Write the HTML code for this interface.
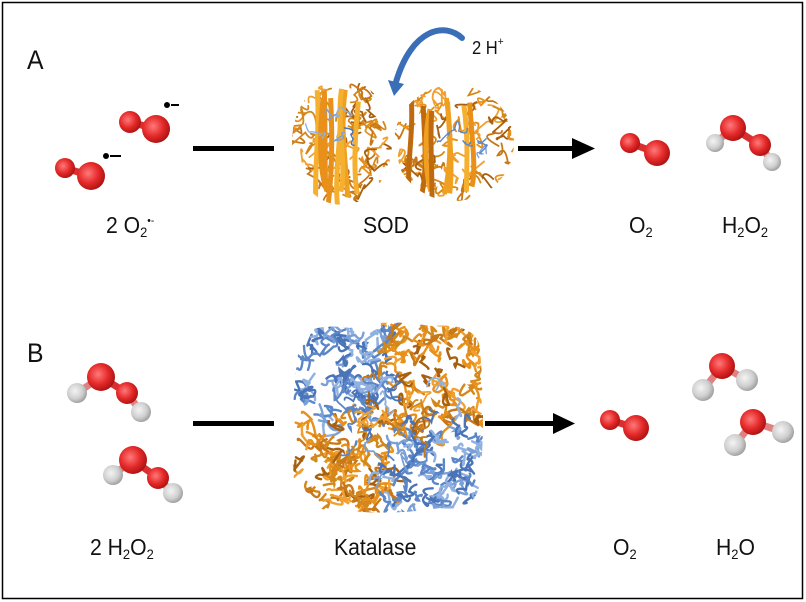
<!DOCTYPE html>
<html><head><meta charset="utf-8"><style>
html,body{margin:0;padding:0;background:#fff}
#c{position:relative;width:806px;height:602px;overflow:hidden;background:#fff}
.t{position:absolute;font-family:"Liberation Sans",sans-serif;font-size:23px;color:#111;white-space:nowrap;transform-origin:0 0;transform:scaleX(0.92)}
.L{font-size:27px}
sub{font-size:14px;vertical-align:-4px}
sup{font-size:13px;vertical-align:9px}
</style></head><body><div id="c">
<svg width="806" height="602" style="position:absolute;left:0;top:0">
<defs>
<radialGradient id="o" cx="0.4" cy="0.4" r="0.65"><stop offset="0" stop-color="#ff7a7a"/><stop offset="0.55" stop-color="#e52a2a"/><stop offset="1" stop-color="#a81010"/></radialGradient>
<radialGradient id="h" cx="0.4" cy="0.4" r="0.65"><stop offset="0" stop-color="#f4f4f4"/><stop offset="0.6" stop-color="#cfcfcf"/><stop offset="1" stop-color="#999"/></radialGradient>
<clipPath id="c1"><ellipse cx="342" cy="142" rx="50" ry="63"/></clipPath>
<clipPath id="c2"><ellipse cx="454" cy="143" rx="60" ry="58"/></clipPath>
<clipPath id="ck"><path d="M300,340 Q310,322 350,328 Q390,318 430,326 Q478,322 480,350 Q486,420 480,480 Q478,512 440,508 Q390,516 340,510 Q296,512 294,480 Q288,420 300,340Z"/></clipPath>
</defs>
<rect x="2.5" y="2.5" width="800" height="596" fill="none" stroke="#000" stroke-width="1.5"/>
<g id="mol"></g>
<g id="g1" clip-path="url(#c1)"></g>
<g id="g2" clip-path="url(#c2)"></g>
<g id="gk" clip-path="url(#ck)"></g>
<rect x="193" y="146" width="81" height="5" fill="#000"/>
<rect x="518" y="146" width="56" height="5" fill="#000"/>
<polygon points="572,138 595,148.5 572,159" fill="#000"/>
<rect x="193" y="421" width="81" height="5" fill="#000"/>
<rect x="485" y="421" width="70" height="5" fill="#000"/>
<polygon points="553,413 575,423.5 553,434" fill="#000"/>
<path d="M462,38 C445,22 412,28 396,82" fill="none" stroke="#3a6fb8" stroke-width="6" stroke-linecap="round"/>
<polygon points="388,80 404,84 394,96" fill="#3a6fb8"/>
<circle cx="167" cy="105" r="3" fill="#000"/><rect x="171" y="104" width="8" height="2" fill="#000"/>
<circle cx="106" cy="156" r="3" fill="#000"/><rect x="110" y="155" width="11" height="2" fill="#000"/>
</svg>
<div class="t L" style="left:27px;top:45px">A</div>
<div class="t L" style="left:27px;top:338px">B</div>
<div class="t" style="left:472px;top:36px;font-size:18px">2 H<sup style="font-size:11px">+</sup></div>
<div class="t" style="left:106px;top:212px">2 O<sub>2</sub><sup style="font-size:11px">•-</sup></div>
<div class="t" style="left:363px;top:212px">SOD</div>
<div class="t" style="left:629px;top:212px">O<sub>2</sub></div>
<div class="t" style="left:722px;top:212px">H<sub>2</sub>O<sub>2</sub></div>
<div class="t" style="left:90px;top:534px">2 H<sub>2</sub>O<sub>2</sub></div>
<div class="t" style="left:334px;top:534px">Katalase</div>
<div class="t" style="left:613px;top:534px">O<sub>2</sub></div>
<div class="t" style="left:716px;top:534px">H<sub>2</sub>O</div>
</div>
<script>
var NS="http://www.w3.org/2000/svg";
var mol=document.getElementById('mol');
function at(a){var c=document.createElementNS(NS,'circle');c.setAttribute('cx',a[0]);c.setAttribute('cy',a[1]);c.setAttribute('r',a[2]);c.setAttribute('fill','url(#'+a[3]+')');mol.appendChild(c);}
function bond(p,q){var l=document.createElementNS(NS,'line');l.setAttribute('x1',p[0]);l.setAttribute('y1',p[1]);l.setAttribute('x2',q[0]);l.setAttribute('y2',q[1]);l.setAttribute('stroke',p[3]=='h'||q[3]=='h'?'#e08080':'#d83030');l.setAttribute('stroke-width','7');mol.appendChild(l);}
var M=[
 [[[130,122,11,'o'],[156,129,14,'o']],[[0,1]]],
 [[[65,168,10,'o'],[91,176,14,'o']],[[0,1]]],
 [[[630,143,10,'o'],[657,153,13,'o']],[[0,1]]],
 [[[715,143,9,'h'],[733,128,13,'o'],[760,145,11,'o'],[772,162,9,'h']],[[0,1],[1,2],[2,3]]],
 [[[77,393,10,'h'],[101,377,14,'o'],[127,393,11,'o'],[141,412,10,'h']],[[0,1],[1,2],[2,3]]],
 [[[113,475,10,'h'],[133,460,14,'o'],[158,478,11,'o'],[173,493,10,'h']],[[0,1],[1,2],[2,3]]],
 [[[610,420,10,'o'],[636,428,13,'o']],[[0,1]]],
 [[[703,390,11,'h'],[722,366,13,'o'],[747,380,11,'h']],[[0,1],[1,2]]],
 [[[735,445,11,'h'],[753,422,13,'o'],[783,432,11,'h']],[[0,1],[1,2]]]
];
M.forEach(function(m){var A=m[0];m[1].forEach(function(b){bond(A[b[0]],A[b[1]]);});A.forEach(at);});
var seed=11;function R(){seed=(seed*16807)%2147483647;return seed/2147483647;}
function squig(G,x0,y0,w,h,n,cols,sw,st){
 var g=document.getElementById(G);
 for(var i=0;i<n;i++){
  var x=x0+R()*w,y=y0+R()*h,d='M'+x.toFixed(1)+','+y.toFixed(1);
  for(var k=0;k<3;k++){var cx=x+(R()-0.5)*st,cy=y+(R()-0.5)*st,nx=x+(R()-0.5)*st,ny=y+(R()-0.5)*st;
   d+=' Q'+cx.toFixed(1)+','+cy.toFixed(1)+' '+nx.toFixed(1)+','+ny.toFixed(1);x=nx;y=ny;}
  var p=document.createElementNS(NS,'path');p.setAttribute('d',d);p.setAttribute('fill','none');
  p.setAttribute('stroke',cols[Math.floor(R()*cols.length)]);p.setAttribute('stroke-width',sw);p.setAttribute('stroke-linecap','round');g.appendChild(p);}
}
function strands(G,x0,y0,w,h,n){
 var g=document.getElementById(G);
 for(var i=0;i<n;i++){var x=x0+R()*w,y=y0+R()*15;
  var p=document.createElementNS(NS,'path');
  p.setAttribute('d','M'+x+','+y+' C'+(x+(R()-0.5)*14)+','+(y+h/3)+' '+(x+(R()-0.5)*14)+','+(y+2*h/3)+' '+(x+(R()-0.5)*8)+','+(y+h-R()*20));
  p.setAttribute('fill','none');p.setAttribute('stroke',['#f0a020','#e8901a','#f5b030','#c06a10'][Math.floor(R()*4)]);p.setAttribute('stroke-width',5);g.appendChild(p);}
}
var OR=['#e8901a','#f0a030','#c87818','#d4881c','#a86010'],BL=['#5b86c8','#7aa0d8','#4a74b8','#8fb0e0'];
squig('g1',292,80,100,125,60,OR,1.8,26);strands('g1',315,88,55,112,8);squig('g1',322,112,36,60,5,BL,1.4,18);
squig('g2',394,86,120,116,65,OR,1.8,26);strands('g2',410,96,60,100,8);squig('g2',452,125,36,50,5,BL,1.4,18);
squig('gk',290,322,100,100,80,BL,2.4,22);squig('gk',385,322,100,100,80,OR,2.4,22);
squig('gk',290,418,100,98,80,OR,2.4,22);squig('gk',385,418,100,98,80,BL,2.4,22);
squig('gk',345,380,90,90,35,OR.concat(BL),1.8,22);
</script>
</body></html>
